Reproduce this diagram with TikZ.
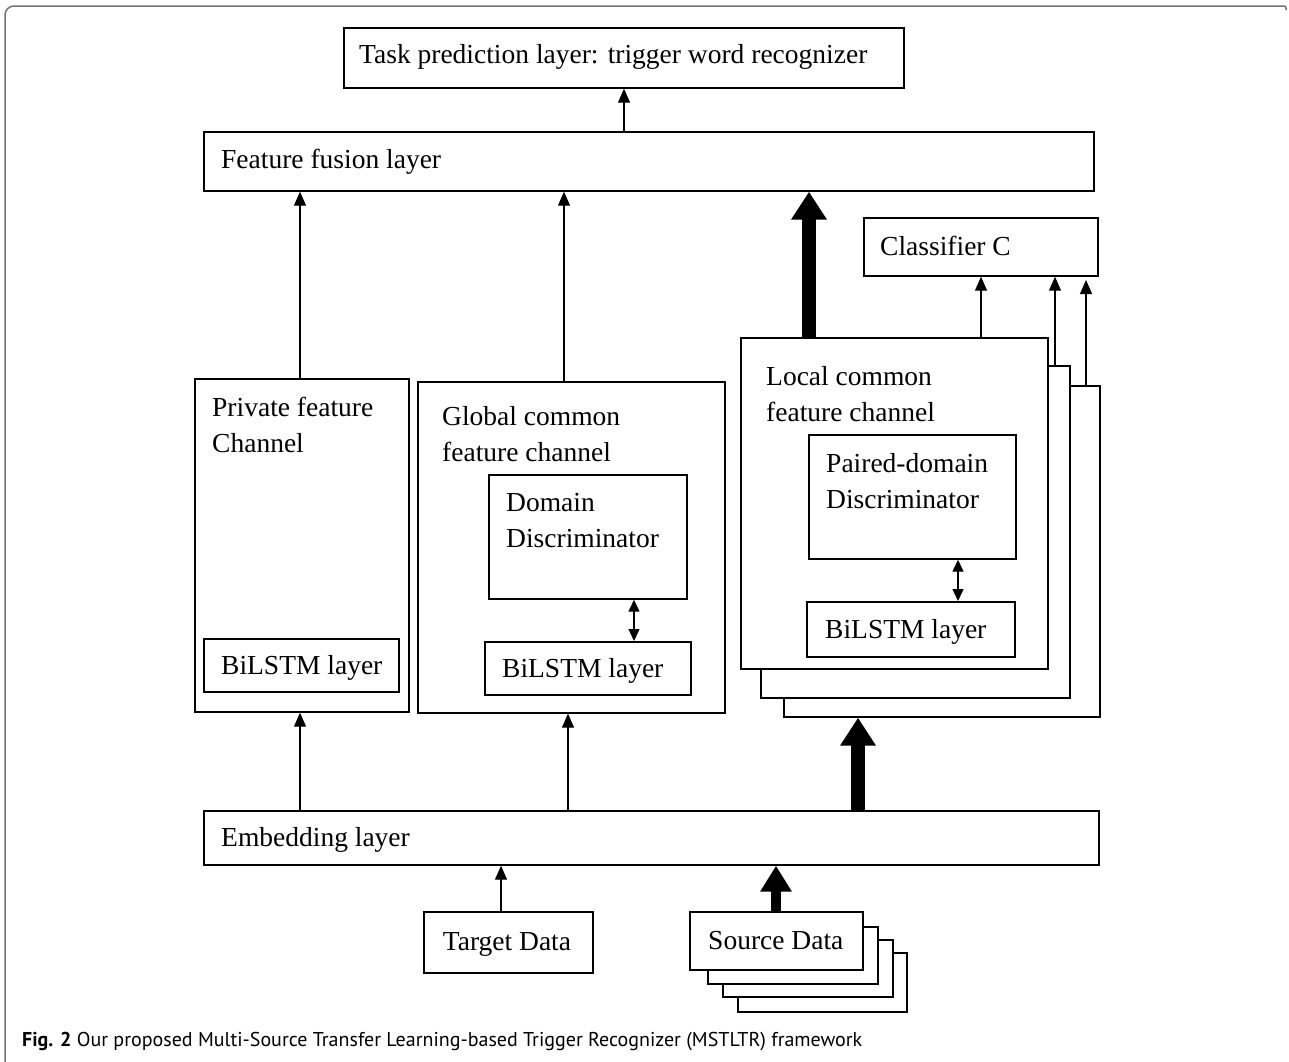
\documentclass[tikz,border=0pt]{standalone}
\usepackage{fontspec}
\setmainfont{Liberation Serif}
\newfontfamily\capfont{PT Sans}
\usetikzlibrary{arrows.meta}
\newcommand{\fs}{\fontsize{27.5}{36}\selectfont}
\tikzset{
  box/.style={draw, line width=1.7pt, inner sep=0pt, fill=white, anchor=north west},
  txt/.style={font=\fs, inner sep=0pt, anchor=base west, align=left},
  arr/.style={line width=1.3pt, -{Triangle[length=14pt,width=12pt]}},
  darr/.style={line width=1.3pt, {Triangle[length=12pt,width=11pt]}-{Triangle[length=12pt,width=11pt]}},
  fat/.style={line width=14pt, -{Triangle[length=28pt,width=34pt]}},
  fatb/.style={line width=10pt, -{Triangle[length=26pt,width=30pt]}},
}
\begin{document}
\begin{tikzpicture}[x=1pt,y=-1pt]
\useasboundingbox (0,0) rectangle (1289,1061);
% frame
\draw[line width=1.5pt, black!55] [rounded corners=9pt] (5,1070) -- (5,6) [rounded corners=2pt] -- (1286,6) -- (1286,10);

% top boxes
\node[box, minimum width=560pt, minimum height=60pt] (task) at (343,27) {};
\node[txt] (tasktxt) at (359,63) {Task prediction layer: trigger word recognizer};
\node[box, minimum width=890pt, minimum height=59pt] (fusion) at (203,131) {};
\node[txt] (fusiontxt) at (221,168) {Feature fusion layer};

% private channel
\node[box, minimum width=214pt, minimum height=333pt] (priv) at (194,378) {};
\node[txt, anchor=north west] (privtxt) at (212,397) {Private feature\\Channel};
\node[box, minimum width=195pt, minimum height=53pt] (pbil) at (203,638) {};
\node[txt] (pbiltxt) at (221,674) {BiLSTM layer};

% global channel
\node[box, minimum width=307pt, minimum height=331pt] (glob) at (417,381) {};
\node[txt, anchor=north west] (globtxt) at (442,406) {Global common\\feature channel};
\node[box, minimum width=198pt, minimum height=124pt] (dd) at (488,474) {};
\node[txt, anchor=north west] (ddtxt) at (506,493) {Domain\\Discriminator};
\node[box, minimum width=206pt, minimum height=53pt] (gbil) at (484,641) {};
\node[txt] (gbiltxt) at (502,677) {BiLSTM layer};

% local channel stack
\node[box, minimum width=316pt, minimum height=331pt] (loc2) at (783,385) {};
\node[box, minimum width=309pt, minimum height=332pt] (loc1) at (760,365) {};
\node[box, minimum width=307pt, minimum height=331pt] (loc) at (740,337) {};
\node[txt, anchor=north west] (loctxt) at (766,366) {Local common\\feature channel};
\node[box, minimum width=207pt, minimum height=124pt] (pd) at (808,434) {};
\node[txt, anchor=north west] (pdtxt) at (826,453) {Paired-domain\\Discriminator};
\node[box, minimum width=208pt, minimum height=55pt] (lbil) at (806,601) {};
\node[txt] (lbiltxt) at (825,638) {BiLSTM layer};

% classifier
\node[box, minimum width=234pt, minimum height=58pt] (cls) at (863,217) {};
\node[txt] (clstxt) at (880,255) {Classifier C};

% embedding
\node[box, minimum width=895pt, minimum height=54pt] (emb) at (203,810) {};
\node[txt] (embtxt) at (221,846) {Embedding layer};

% data
\node[box, minimum width=169pt, minimum height=61pt] (tgt) at (423,911) {};
\node[txt, anchor=base] (tgttxt) at (507,950) {Target Data};
\node[box, minimum width=169pt, minimum height=59pt] (src3) at (737,952) {};
\node[box, minimum width=170pt, minimum height=57pt] (src2) at (722,939) {};
\node[box, minimum width=170pt, minimum height=57pt] (src1) at (707,926) {};
\node[box, minimum width=173pt, minimum height=58pt] (src) at (689,911) {};
\node[txt] (srctxt) at (708,949) {Source Data};

% x positions for connectors
\coordinate (xa) at (624,0);
\coordinate (xb) at (300,0);
\coordinate (xc) at (564,0);
\coordinate (xd) at (809,0);
\coordinate (xe) at (981,0);
\coordinate (xf) at (1055,0);
\coordinate (xg) at (1086,0);
\coordinate (xh) at (568,0);
\coordinate (xi) at (858,0);
\coordinate (xj) at (501,0);
\coordinate (xk) at (776,0);
\coordinate (xl) at (634,0);
\coordinate (xm) at (958,0);
\coordinate (tip3) at (1086,280);

% connectors
\draw[arr] (xa |- fusion.north) -- (xa |- task.south);
\draw[arr] (xb |- priv.north) -- (xb |- fusion.south);
\draw[arr] (xc |- glob.north) -- (xc |- fusion.south);
\draw[fat] (xd |- loc.north) -- (xd |- fusion.south);
\draw[arr] (xe |- loc.north) -- (xe |- cls.south);
\draw[arr] (xf |- loc1.north) -- (xf |- cls.south);
\draw[arr] (xg |- loc2.north) -- (tip3);
\draw[darr] (xl |- dd.south) -- (xl |- gbil.north);
\draw[darr] (xm |- pd.south) -- (xm |- lbil.north);
\draw[arr] (xb |- emb.north) -- (xb |- priv.south);
\draw[arr] (xh |- emb.north) -- (xh |- glob.south);
\draw[fat] (xi |- emb.north) -- (xi |- loc2.south);
\draw[arr] (xj |- tgt.north) -- (xj |- emb.south);
\draw[fatb] (xk |- src.north) -- (xk |- emb.south);

% caption
\node[inner sep=0pt, anchor=base west] (cap) at (22,1046)
  {\resizebox{840pt}{!}{\capfont\textbf{Fig. 2} Our proposed Multi-Source Transfer Learning-based Trigger Recognizer (MSTLTR) framework}};
\end{tikzpicture}
\end{document}
